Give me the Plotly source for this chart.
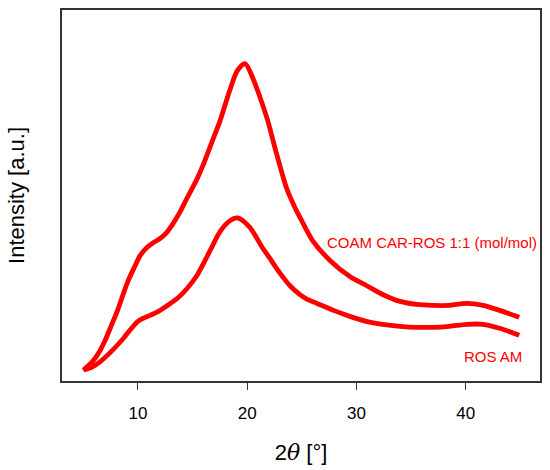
import plotly.graph_objects as go

# 2-theta positions (deg) and intensities (a.u.)
coam_2theta = [5.0, 5.8, 6.5, 7.0, 7.5, 8.1, 9.0, 9.7, 10.2, 10.8, 11.4, 12.0, 12.6,
               13.2, 13.8, 14.5, 15.4, 16.0, 16.9, 17.5, 18.4, 19.1, 19.8, 20.5, 21.4,
               21.9, 22.7, 23.6, 24.3, 25.0, 26.0, 27.6, 29.4, 30.9, 32.4, 34.0, 35.5,
               37.0, 38.5, 40.1, 41.6, 43.1, 44.9]
coam_int = [11, 19, 30, 41, 54, 70, 98, 115, 126, 134, 139, 143, 149,
            158, 169, 184, 203, 218, 244, 261, 292, 312, 319, 305, 278,
            261, 228, 194, 176, 161, 141, 121, 105, 96, 87, 80, 77,
            76, 76, 78, 76, 71, 64]

ros_2theta = [5.0, 5.8, 6.5, 7.5, 8.6, 10.0, 11.1, 11.7, 12.7, 13.7, 14.5, 15.4, 16.6,
              17.5, 18.4, 19.1, 20.2, 21.4, 22.1, 22.7, 23.3, 23.9, 24.8, 25.5, 26.4,
              27.9, 29.4, 30.9, 32.4, 34.0, 35.5, 37.0, 38.5, 40.1, 41.6, 43.1, 44.9]
ros_int = [11, 14, 19, 29, 42, 60, 66, 69, 76, 84, 93, 106, 131,
           150, 161, 164, 155, 134, 123, 113, 104, 96, 87, 82, 78,
           71, 65, 60, 57, 55, 54, 54, 55, 57, 57, 53, 46]

red = '#ff0000'

fig = go.Figure()
fig.add_trace(go.Scatter(x=coam_2theta, y=coam_int, mode='lines',
                         line=dict(color=red, width=4.8, shape='spline', smoothing=0.8),
                         name='COAM CAR-ROS 1:1 (mol/mol)'))
fig.add_trace(go.Scatter(x=ros_2theta, y=ros_int, mode='lines',
                         line=dict(color=red, width=4.8, shape='spline', smoothing=0.8),
                         name='ROS AM'))

fig.add_annotation(x=46.7, y=139, xref='x', yref='y', text='COAM CAR-ROS 1:1 (mol/mol)',
                   showarrow=False, xanchor='right', yanchor='middle',
                   font=dict(color=red, size=15))
fig.add_annotation(x=45.3, y=25, xref='x', yref='y', text='ROS AM',
                   showarrow=False, xanchor='right', yanchor='middle',
                   font=dict(color=red, size=15))

fig.update_layout(
    width=550, height=470,
    margin=dict(l=62, r=10, t=8, b=89),
    paper_bgcolor='white', plot_bgcolor='white',
    showlegend=False,
    font=dict(family='Liberation Sans, Arial, sans-serif', color='black'),
    xaxis=dict(
        range=[3.05, 46.8], tickvals=[10, 20, 30, 40],
        ticks='outside', ticklen=7, tickwidth=1.2, tickcolor='#333',
        ticklabelstandoff=9,
        tickfont=dict(size=17), showgrid=False, zeroline=False,
        showline=True, linecolor='#333', linewidth=1.5, mirror=True,
        title=dict(text="2<span style='font-family:DejaVu Serif'><i>θ</i></span> [°]",
                   font=dict(size=22), standoff=22),
    ),
    yaxis=dict(
        range=[0, 373], showticklabels=False, ticks='', showgrid=False, zeroline=False,
        showline=True, linecolor='#333', linewidth=1.5, mirror=True,
        title=dict(text='Intensity [a.u.]', font=dict(size=22), standoff=30),
    ),
)

fig.write_html("out.html", config={'displayModeBar': False},
               post_script="document.body.style.margin='0';")
